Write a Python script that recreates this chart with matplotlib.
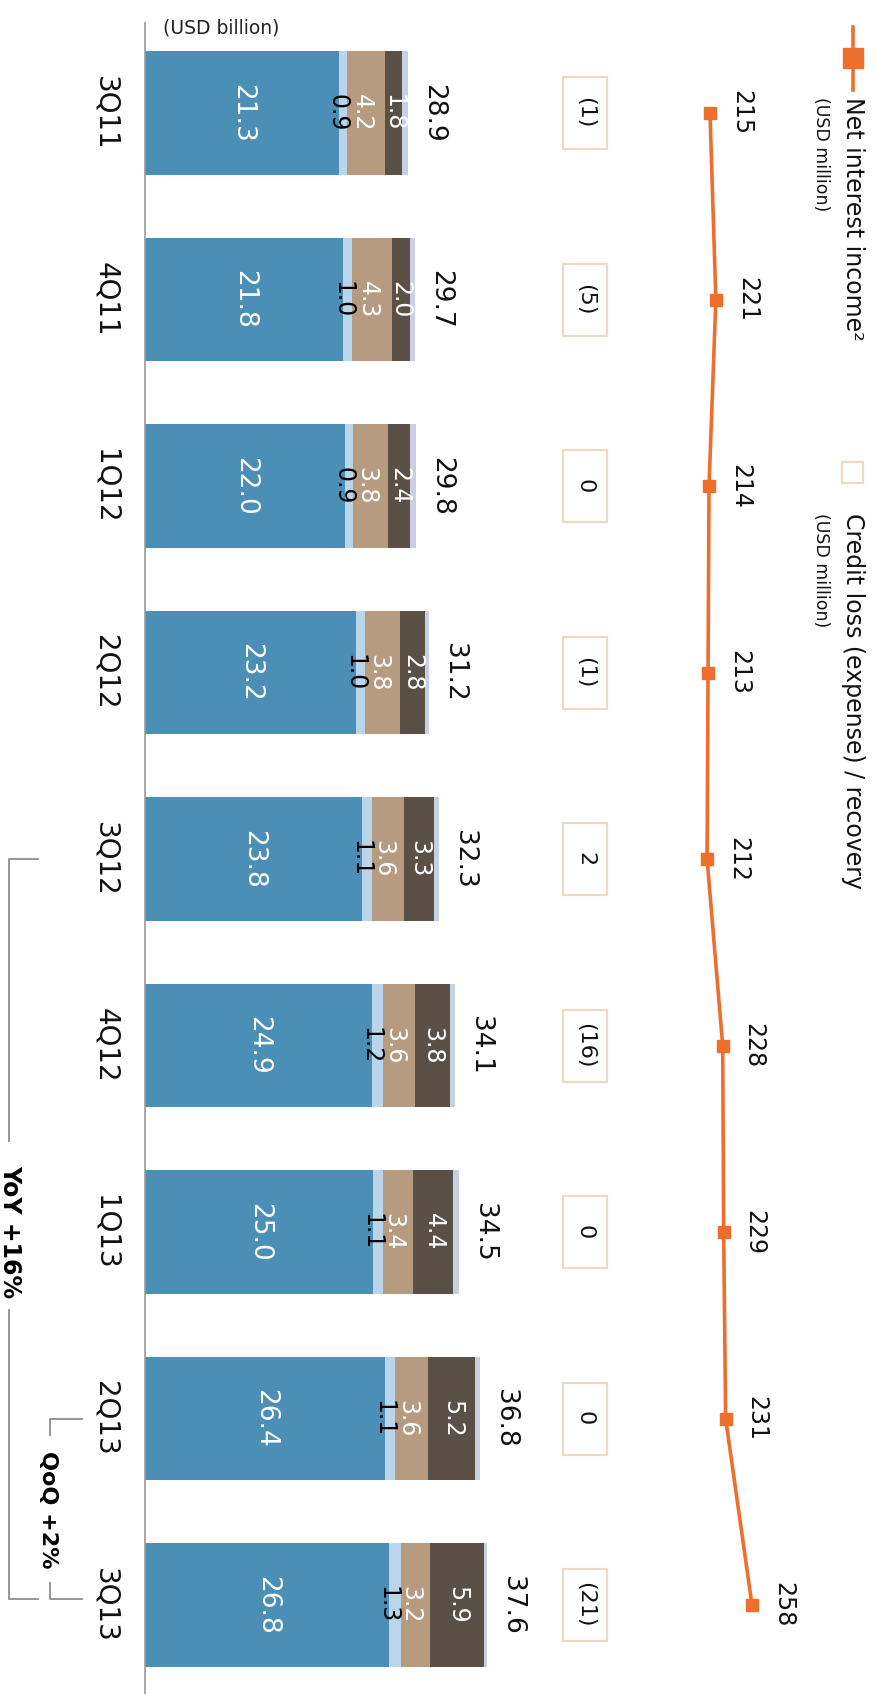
import matplotlib
matplotlib.use("Agg")
import matplotlib.pyplot as plt
import numpy as np

# --- data -------------------------------------------------------------------
quarters = ["3Q11", "4Q11", "1Q12", "2Q12", "3Q12", "4Q12", "1Q13", "2Q13", "3Q13"]
seg_blue = [21.3, 21.8, 22.0, 23.2, 23.8, 24.9, 25.0, 26.4, 26.8]
seg_light = [0.9, 1.0, 0.9, 1.0, 1.1, 1.2, 1.1, 1.1, 1.3]
seg_tan = [4.2, 4.3, 3.8, 3.8, 3.6, 3.6, 3.4, 3.6, 3.2]
seg_dark = [1.8, 2.0, 2.4, 2.8, 3.3, 3.8, 4.4, 5.2, 5.9]
seg_other = [0.7, 0.6, 0.7, 0.4, 0.5, 0.6, 0.6, 0.5, 0.4]
totals = [28.9, 29.7, 29.8, 31.2, 32.3, 34.1, 34.5, 36.8, 37.6]
credit_loss = ["(1)", "(5)", "0", "(1)", "2", "(16)", "0", "0", "(21)"]
net_interest = [215, 221, 214, 213, 212, 228, 229, 231, 258]

C_BLUE = "#4b8fb6"
C_LIGHT = "#bad4ea"
C_TAN = "#b69b81"
C_DARK = "#5b5046"
C_OTHER = "#c7d0e2"
C_ORANGE = "#ee6f2d"
C_BOX = "#eadbc8"
C_GREY = "#8e8e8e"

W, H = 877, 1694
fig = plt.figure(figsize=(W / 100, H / 100), dpi=100)
ax = fig.add_axes([0, 0, 1, 1])
ax.set_xlim(-145 / 9.1, (W - 145) / 9.1)
ax.set_ylim(8.477, -0.606)
ax.axis("off")

pos = np.arange(len(quarters))
blue = np.array(seg_blue)
light = np.array(seg_light)
tan = np.array(seg_tan)
dark = np.array(seg_dark)
other = np.array(seg_other)

bh = 0.66
ax.barh(pos, blue, height=bh, color=C_BLUE, lw=0)
ax.barh(pos, light, left=blue, height=bh, color=C_LIGHT, lw=0)
ax.barh(pos, tan, left=blue + light, height=bh, color=C_TAN, lw=0)
ax.barh(pos, dark, left=blue + light + tan, height=bh, color=C_DARK, lw=0)
ax.barh(pos, other, left=blue + light + tan + dark, height=bh, color=C_OTHER, lw=0)

# baseline
ax.plot([0, 0], [-0.49, 8.48], color="#9a9a9a", lw=1.2, solid_capstyle="butt")
fig.text(163 / W, 1 - 28 / H, "(USD billion)", fontsize=13.5, ha="left", va="center", color="#222222")

rot = dict(rotation=270, rotation_mode="anchor")
for i, q in enumerate(quarters):
    ax.text(-4.3, i, q, ha="center", va="center", fontsize=20, color="#111111", **rot)
    ax.text(blue[i] / 2, i, f"{blue[i]:.1f}", ha="center", va="center", fontsize=19, color="white", **rot)
    ax.text(blue[i] - 0.15, i, f"{light[i]:.1f}", ha="center", va="center", fontsize=17, color="black", **rot)
    ax.text(blue[i] + light[i] + tan[i] / 2 - 0.5, i, f"{tan[i]:.1f}", ha="center", va="center",
            fontsize=17, color="white", **rot)
    ax.text(blue[i] + light[i] + tan[i] + dark[i] / 2, i, f"{dark[i]:.1f}", ha="center", va="center",
            fontsize=17, color="white", **rot)
    ax.annotate(f"{totals[i]:.1f}", (totals[i], i), xytext=(25, 0), textcoords="offset pixels",
                ha="center", va="center", fontsize=19, color="#111111", **rot)

# credit loss boxes
box_w = 44 / 9.1
box_h = 72 / 186.5
box_c = (585 - 145) / 9.1
ax.barh(pos, box_w, left=box_c - box_w / 2, height=box_h, facecolor="none", edgecolor=C_BOX, lw=1.6)
for i, v in enumerate(credit_loss):
    ax.text(box_c, i, v, ha="center", va="center", fontsize=16, color="#111111", **rot)

# net interest income line
ax2 = fig.add_axes([0, 0, 1, 1], facecolor="none")
ax2.set_xlim(-512, 386)
ax2.set_ylim(8.477, -0.606)
ax2.axis("off")
ax2.plot(net_interest, pos, color=C_ORANGE, lw=2.6, marker="s", ms=9, mec=C_ORANGE, mfc=C_ORANGE)
for i, v in enumerate(net_interest):
    ax2.annotate(str(v), (v, i), xytext=(31, 0), textcoords="offset pixels",
                 ha="center", va="center", fontsize=17, color="#111111", **rot)

# YoY / QoQ brackets
yoy_x, yoy_tick = (9 - 145) / 9.1, (38 - 145) / 9.1
ax.plot([yoy_tick, yoy_x, yoy_x], [4, 4, 5.51], color=C_GREY, lw=1.3)
ax.plot([yoy_x, yoy_x, yoy_tick], [6.42, 7.97, 7.97], color=C_GREY, lw=1.3)
ax.text(yoy_x + 0.1, 6, "YoY +16%", ha="center", va="center", fontsize=17, fontweight="bold", color="black", **rot)

qoq_x, qoq_tick = (50 - 145) / 9.1, (82 - 145) / 9.1
ax.plot([qoq_tick, qoq_x, qoq_x], [7, 7, 7.09], color=C_GREY, lw=1.3)
ax.plot([qoq_x, qoq_x, qoq_tick], [7.88, 7.97, 7.97], color=C_GREY, lw=1.3)
ax.text(qoq_x - 0.2, 7.49, "QoQ +2%", ha="center", va="center", fontsize=16, fontweight="bold", color="black", **rot)

# legend (drawn by hand, rotated like the chart)
fig.add_artist(plt.Line2D([853 / W, 853 / W], [1 - 27 / H, 1 - 90 / H], color=C_ORANGE, lw=2.6,
                          marker="s", markevery=[0], ms=0))
fig.add_artist(plt.Line2D([853 / W], [1 - 58 / H], color=C_ORANGE, marker="s", ms=14, lw=0))
fig.text(853 / W, 1 - 97 / H, "Net interest income²", ha="center", va="top", fontsize=17,
         color="#111111", rotation=270)
fig.text(821 / W, 1 - 97 / H, "(USD million)", ha="center", va="top", fontsize=12.5,
         color="#111111", rotation=270)

fig.add_artist(plt.Rectangle((842 / W, 1 - 483 / H), 21 / W, 21 / H, facecolor="none",
                             edgecolor=C_BOX, lw=1.6))
fig.text(853 / W, 1 - 513 / H, "Credit loss (expense) / recovery", ha="center", va="top", fontsize=17,
         color="#111111", rotation=270)
fig.text(821 / W, 1 - 513 / H, "(USD million)", ha="center", va="top", fontsize=12.5,
         color="#111111", rotation=270)

fig.savefig("out.png", dpi=100, facecolor="white")
